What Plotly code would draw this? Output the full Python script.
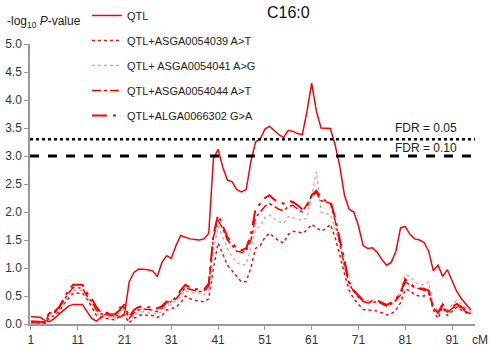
import plotly.graph_objects as go

cm = list(range(1, 96))

qtl = [0.13, 0.13, 0.12, 0.06, 0.04, 0.10, 0.17, 0.25, 0.32, 0.35,
       0.35, 0.35, 0.22, 0.10, 0.05, 0.12, 0.18, 0.18, 0.18, 0.12,
       0.18, 0.75, 0.92, 0.98, 0.98, 0.97, 0.95, 0.85, 1.10, 1.22,
       1.17, 1.40, 1.58, 1.55, 1.52, 1.51, 1.50, 1.52, 1.62, 2.95,
       3.12, 2.80, 2.57, 2.54, 2.40, 2.36, 2.40, 2.90, 3.25, 3.30,
       3.48, 3.53, 3.45, 3.38, 3.33, 3.46, 3.44, 3.40, 3.38, 3.80,
       4.30, 3.80, 3.50, 3.49, 3.49, 3.20, 2.82, 2.30, 2.05, 2.00,
       1.75, 1.40, 1.35, 1.36, 1.28, 1.15, 1.05, 1.10, 1.30, 1.72,
       1.74, 1.60, 1.52, 1.50, 1.46, 1.30, 0.95, 1.05, 0.85, 0.97,
       0.78, 0.58, 0.45, 0.35, 0.25]

s4 = [0.05, 0.05, 0.04, 0.03, 0.22, 0.22, 0.30, 0.45, 0.60, 0.70,
      0.70, 0.70, 0.55, 0.45, 0.30, 0.20, 0.20, 0.20, 0.18, 0.25,
      0.35, 0.12, 0.25, 0.30, 0.32, 0.30, 0.30, 0.28, 0.32, 0.40,
      0.38, 0.50, 0.60, 0.70, 0.65, 0.62, 0.62, 0.62, 0.72, 1.60,
      1.95, 1.75, 1.55, 1.45, 1.35, 1.32, 1.35, 1.60, 2.05, 2.15,
      2.25, 2.30, 2.22, 2.18, 2.15, 2.20, 2.18, 2.12, 2.05, 2.10,
      2.30, 2.38, 2.25, 2.20, 2.20, 1.90, 1.50, 1.10, 0.75, 0.60,
      0.50, 0.42, 0.40, 0.40, 0.42, 0.38, 0.34, 0.38, 0.45, 0.55,
      0.80, 0.72, 0.66, 0.64, 0.63, 0.60, 0.30, 0.20, 0.35, 0.22,
      0.30, 0.36, 0.30, 0.25, 0.20]

s3 = [0.03, 0.03, 0.02, 0.02, 0.20, 0.20, 0.28, 0.42, 0.55, 0.65,
      0.65, 0.64, 0.50, 0.40, 0.25, 0.18, 0.18, 0.15, 0.14, 0.30,
      0.30, 0.10, 0.20, 0.25, 0.27, 0.26, 0.25, 0.22, 0.28, 0.38,
      0.40, 0.45, 0.55, 0.65, 0.62, 0.60, 0.58, 0.58, 0.68, 1.55,
      1.85, 1.70, 1.50, 1.40, 1.30, 1.28, 1.30, 1.50, 1.90, 2.00,
      2.10, 2.15, 2.10, 2.05, 2.02, 2.10, 2.12, 2.05, 2.00, 2.15,
      2.28, 2.35, 2.20, 2.18, 2.15, 1.85, 1.45, 1.05, 0.72, 0.58,
      0.48, 0.40, 0.38, 0.38, 0.40, 0.36, 0.32, 0.36, 0.42, 0.52,
      0.75, 0.70, 0.65, 0.63, 0.60, 0.58, 0.28, 0.20, 0.33, 0.20,
      0.28, 0.32, 0.28, 0.22, 0.18]

s2 = [0.02, 0.02, 0.02, 0.01, 0.18, 0.18, 0.25, 0.38, 0.50, 0.60,
      0.60, 0.60, 0.47, 0.35, 0.20, 0.15, 0.15, 0.12, 0.10, 0.20,
      0.25, 0.05, 0.15, 0.20, 0.22, 0.20, 0.20, 0.18, 0.22, 0.32,
      0.35, 0.42, 0.50, 0.60, 0.58, 0.55, 0.55, 0.52, 0.60, 1.30,
      1.75, 1.55, 1.35, 1.20, 1.10, 1.05, 1.07, 1.35, 1.70, 1.75,
      1.90, 1.95, 1.88, 1.83, 1.80, 1.92, 1.90, 1.88, 1.85, 1.90,
      2.30, 2.72, 2.00, 1.98, 1.95, 1.70, 1.40, 1.00, 0.70, 0.60,
      0.45, 0.42, 0.42, 0.42, 0.43, 0.38, 0.35, 0.38, 0.45, 0.60,
      0.88, 0.85, 0.75, 0.70, 0.70, 0.75, 0.32, 0.25, 0.37, 0.25,
      0.35, 0.42, 0.35, 0.28, 0.22]

s1 = [0.00, 0.00, 0.00, 0.00, 0.12, 0.15, 0.22, 0.35, 0.45, 0.55,
      0.55, 0.55, 0.45, 0.30, 0.15, 0.12, 0.10, 0.08, 0.07, 0.15,
      0.15, 0.02, 0.10, 0.15, 0.17, 0.15, 0.15, 0.12, 0.15, 0.25,
      0.28, 0.30, 0.38, 0.50, 0.45, 0.42, 0.40, 0.40, 0.45, 1.00,
      1.45, 1.25, 1.05, 0.95, 0.85, 0.75, 0.76, 1.00, 1.35, 1.40,
      1.55, 1.62, 1.55, 1.48, 1.45, 1.60, 1.65, 1.65, 1.62, 1.68,
      1.78, 1.72, 1.66, 1.70, 1.78, 1.55, 1.20, 0.90, 0.60, 0.45,
      0.35, 0.26, 0.25, 0.24, 0.23, 0.20, 0.16, 0.18, 0.25, 0.38,
      0.62, 0.60, 0.52, 0.50, 0.50, 0.55, 0.25, 0.10, 0.30, 0.15,
      0.22, 0.30, 0.25, 0.20, 0.18]

fdr_levels = [3.3, 3.0]
fdr_labels = ["FDR = 0.05", "FDR = 0.10"]
x_ticks = [1, 11, 21, 31, 41, 51, 61, 71, 81, 91]
y_ticks = [0.0, 0.5, 1.0, 1.5, 2.0, 2.5, 3.0, 3.5, 4.0, 4.5, 5.0]

names = ["QTL", "QTL+ASGA0054039 A>T", "QTL+ ASGA0054041 A>G",
         "QTL+ASGA0054044 A>T", "QTL+ALGA0066302 G>A"]
series = [qtl, s1, s2, s3, s4]
styles = [dict(color="#ff0000", width=1.5, dash="solid"),
          dict(color="#ee1111", width=1.5, dash="dot"),
          dict(color="#ff8c8c", width=1.2, dash="dot"),
          dict(color="#ff0000", width=1.5, dash="dashdot"),
          dict(color="#ff0000", width=2, dash="longdashdot")]

fig = go.Figure()
for i, (nm, ys, st) in enumerate(zip(names, series, styles)):
    fig.add_trace(go.Scatter(x=cm, y=ys, mode="lines", name=nm, line=st,
                             legendgroup=str(i)))

fig.add_hline(y=fdr_levels[0], line=dict(color="black", width=2.5, dash="dot"))
fig.add_hline(y=fdr_levels[1], line=dict(color="black", width=3, dash="dash"))
fig.add_annotation(x=92.5, y=3.5, text=fdr_labels[0], showarrow=False,
                   xanchor="right", yanchor="middle", font=dict(size=12, color="#222"))
fig.add_annotation(x=92.5, y=3.15, text=fdr_labels[1], showarrow=False,
                   xanchor="right", yanchor="middle", font=dict(size=12, color="#222"))

fig.add_annotation(xref="paper", yref="paper", x=0.988, y=-0.049, text="cM",
                   showarrow=False, xanchor="left", yanchor="middle",
                   font=dict(size=12, color="#333"))
fig.add_annotation(xref="paper", yref="paper", x=-0.057, y=0.932,
                   text="-log<sub>10</sub> <i>P</i>-value", showarrow=False,
                   xanchor="left", yanchor="middle", font=dict(size=12, color="#222"))
fig.add_annotation(xref="paper", yref="paper", x=0.582, y=0.96,
                   text="C16:0", showarrow=False, xanchor="center", yanchor="middle",
                   font=dict(size=16, color="#111"))

fig.update_layout(
    width=490, height=349,
    margin=dict(l=30, r=15, t=0, b=25, autoexpand=False),
    paper_bgcolor="white", plot_bgcolor="white",
    font=dict(family="Liberation Sans, Arial, sans-serif", size=12, color="#333"),
    showlegend=True,
    legend=dict(x=0.128, y=0.997, xanchor="left", yanchor="top",
                bgcolor="rgba(0,0,0,0)", font=dict(size=11, color="#222"),
                tracegroupgap=6, itemwidth=30),
    xaxis=dict(range=[0.8, 95.9], tickvals=x_ticks, showgrid=False, zeroline=False,
               showline=True, linecolor="#999", linewidth=1.5, ticks="outside",
               ticklen=4, tickcolor="#999", automargin=False),
    yaxis=dict(range=[0, 5], domain=[0, 280 / 324], tickvals=y_ticks,
               tickformat=".1f", showgrid=False, zeroline=False, showline=True,
               linecolor="#999", linewidth=1.5, ticks="outside", ticklen=4,
               tickcolor="#999", automargin=False),
)

fig.write_html("out.html", config={"displayModeBar": False},
               post_script="document.body.style.margin='0';")
